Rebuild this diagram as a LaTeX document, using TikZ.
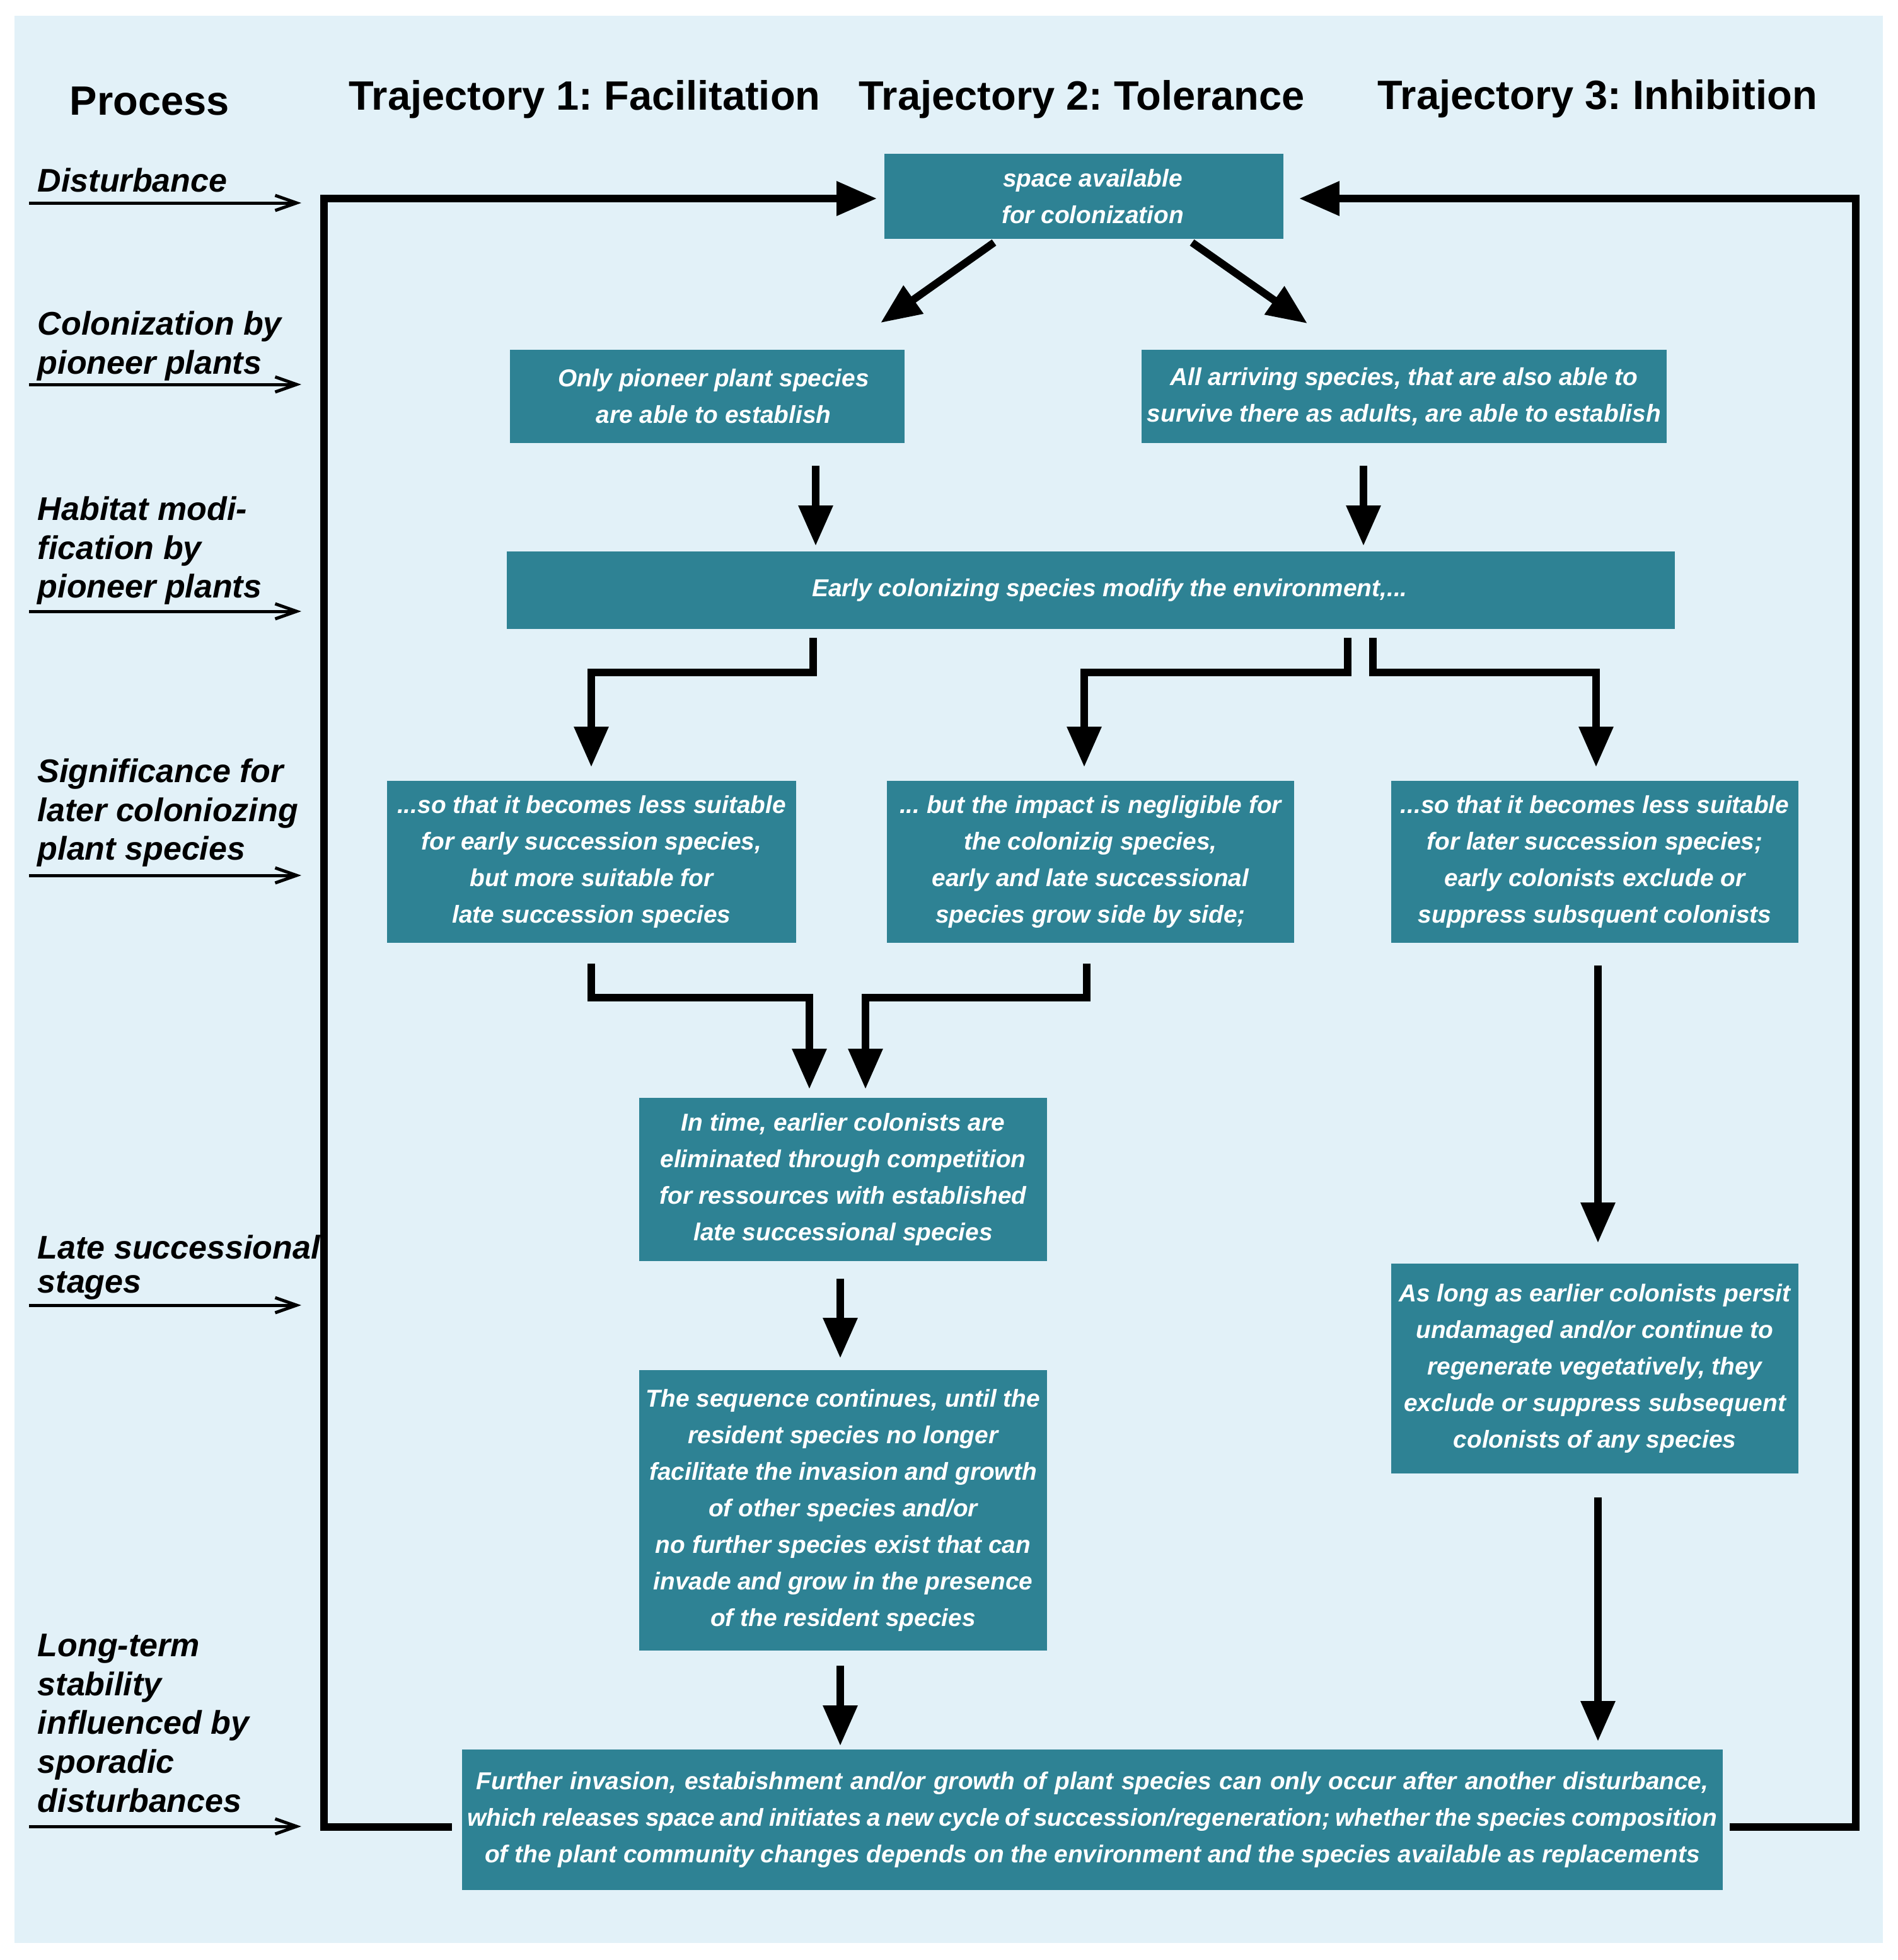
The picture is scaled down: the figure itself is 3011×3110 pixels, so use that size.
\documentclass[tikz,border=0pt]{standalone}
\usepackage{fontspec}
\setmainfont{Liberation Sans}
\usetikzlibrary{arrows.meta,calc}
\definecolor{bgblue}{RGB}{226,241,248}
\definecolor{boxteal}{RGB}{46,130,148}
\frenchspacing
\begin{document}
\begin{tikzpicture}[x=0.25pt,y=-0.25pt,
  box/.style={fill=boxteal, text=white, font=\fontsize{9.7}{14.5}\selectfont\bfseries\itshape, align=center, inner sep=0pt},
  lab/.style={font=\fontsize{13}{15.4}\selectfont\bfseries\itshape, align=left, inner sep=0pt, anchor=north west},
  ttl/.style={font=\fontsize{16.25}{19}\selectfont\bfseries, inner sep=0pt, anchor=base west},
  flow/.style={line width=3pt, -{Triangle[length=16pt,width=13pt]}},
  loopline/.style={line width=3pt},
  labarrow/.style={line width=1.25pt, -{Straight Barb[length=8.5pt,width=6pt]}}
]
\useasboundingbox (0,0) rectangle (3011,3110);
\fill[white] (0,0) rectangle (3011,3110);
\fill[bgblue] (23,25) rectangle (2987,3083);

% titles
\node[ttl] (tproc) at (110,182) {Process};
\node[ttl] (tone) at (553,174) {Trajectory 1: Facilitation};
\node[ttl] (ttwo) at (1362,174) {Trajectory 2: Tolerance};
\node[ttl] (tthree) at (2185,173) {Trajectory 3: Inhibition};

% process labels
\node[lab] (ldist) at (59,266) {Disturbance};
\node[lab] (lcolon) at (59,493) {Colonization by\\pioneer plants};
\node[lab] (lhabit) at (59,787) {Habitat modi-\\fication by\\pioneer plants};
\node[lab] (lsignif) at (59,1203) {Significance for\\later coloniozing\\plant species};
\node[lab, font=\fontsize{13}{13.5}\selectfont\bfseries\itshape] (llate) at (59,1959) {Late successional\\stages};
\node[lab] (llong) at (59,2592) {Long-term\\stability\\influenced by\\sporadic\\disturbances};

\foreach \n/\y in {dist/322, colon/610, habit/970, signif/1389, late/2071, long/2898}{
  \coordinate (\n-from) at (46,\y);
  \coordinate (\n-to) at (478,\y);
  \draw[labarrow] (\n-from) -- (\n-to);
}

% boxes
\node[box, minimum width=633*0.25pt, minimum height=135*0.25pt] (space) at (1719.5,311.5) {\hspace*{7pt}space available\\\hspace*{7pt}for colonization};
\node[box, minimum width=626*0.25pt, minimum height=148*0.25pt] (only) at (1122,629) {\hspace*{5pt}Only pioneer plant species\\\hspace*{5pt}are able to establish};
\node[box, minimum width=833*0.25pt, minimum height=148*0.25pt] (all) at (2227.5,629) {All arriving species, that are also able to\\survive there as adults, are able to establish};
\node[box, minimum width=1853*0.25pt, minimum height=123*0.25pt] (early) at (1730.5,936.5) {\hspace*{15pt}Early colonizing species modify the environment,...};
\node[box, minimum width=649*0.25pt, minimum height=257*0.25pt] (facil) at (938.5,1367.5) {...so that it becomes less suitable\\for early succession species,\\but more suitable for\\late succession species};
\node[box, minimum width=646*0.25pt, minimum height=257*0.25pt] (toler) at (1730,1367.5) {... but the impact is negligible for\\the colonizig species,\\early and late successional\\species grow side by side;};
\node[box, minimum width=646*0.25pt, minimum height=257*0.25pt] (inhib) at (2530,1367.5) {...so that it becomes less suitable\\for later succession species;\\early colonists exclude or\\suppress subsquent colonists};
\node[box, minimum width=647*0.25pt, minimum height=259*0.25pt] (intime) at (1337.5,1871.5) {In time, earlier colonists are\\eliminated through competition\\for ressources with established\\late successional species};
\node[box, minimum width=647*0.25pt, minimum height=445*0.25pt] (seq) at (1337.5,2396.5) {The sequence continues, until the\\resident species no longer\\facilitate the invasion and growth\\of other species and/or\\no further species exist that can\\invade and grow in the presence\\of the resident species};
\node[box, minimum width=646*0.25pt, minimum height=333*0.25pt] (aslong) at (2530,2171.5) {As long as earlier colonists persit\\undamaged and/or continue to\\regenerate vegetatively, they\\exclude or suppress subsequent\\colonists of any species};
\node[box, minimum width=2000*0.25pt, minimum height=223*0.25pt] (further) at (1733,2887.5) {{\spaceskip=0.34em\relax Further invasion, estabishment and/or growth of plant species can only occur after another disturbance,}\\{\spaceskip=0.22em\relax which releases space and initiates a new cycle of succession/regeneration; whether the species composition}\\of the plant community changes depends on the environment and the species available as replacements};

% loop back to the start
\coordinate (loopbl) at (514,2899);
\coordinate (looptl) at (514,315);
\coordinate (loopbr) at (2944,2899);
\coordinate (looptr) at (2944,315);
\draw[loopline, -{Triangle[length=16pt,width=13pt]}] ($(further.west)+(-15,11.5)$) -- (loopbl) -- (looptl) -- ($(space.west)+(-11,3.5)$);
\draw[loopline, -{Triangle[length=16pt,width=13pt]}] ($(further.east)+(10,11.5)$) -- (loopbr) -- (looptr) -- ($(space.east)+(24,3.5)$);

% flow arrows
\draw[flow] ($(space.south)+(-142.5,5)$) -- ($(only.north)+(275,-42)$);
\draw[flow] ($(space.south)+(171.5,5)$) -- ($(all.north)+(-153.5,-41)$);
\draw[flow] ($(only.south)+(172,35)$) -- ($(early.north)+(-436.5,-8)$);
\draw[flow] ($(all.south)+(-64.5,35)$) -- ($(early.north)+(432.5,-8)$);
\draw[flow] ($(early.south)+(-440.5,13)$) |- ($(facil.north)+(-0.5,-171)$) -- ($(facil.north)+(-0.5,-21)$);
\draw[flow] ($(early.south)+(407.5,13)$) |- ($(toler.north)+(-10,-171)$) -- ($(toler.north)+(-10,-21)$);
\draw[flow] ($(early.south)+(447.5,13)$) |- ($(inhib.north)+(2,-171)$) -- ($(inhib.north)+(2,-21)$);
\draw[flow] ($(facil.south)+(-0.5,32)$) |- ($(intime.north)+(-53.5,-158)$) -- ($(intime.north)+(-53.5,-13)$);
\draw[flow] ($(toler.south)+(-6,32)$) |- ($(intime.north)+(35.5,-158)$) -- ($(intime.north)+(35.5,-13)$);
\draw[flow] ($(intime.south)+(-4.5,27)$) -- ($(seq.north)+(-4.5,-18)$);
\draw[flow] ($(seq.south)+(-4.5,23)$) -- ($(further.north)+(-400,-5)$);
\draw[flow] ($(inhib.south)+(5,35)$) -- ($(aslong.north)+(5,-32)$);
\draw[flow] ($(aslong.south)+(5,37)$) -- ($(further.north)+(802,-12)$);
\end{tikzpicture}
\end{document}
